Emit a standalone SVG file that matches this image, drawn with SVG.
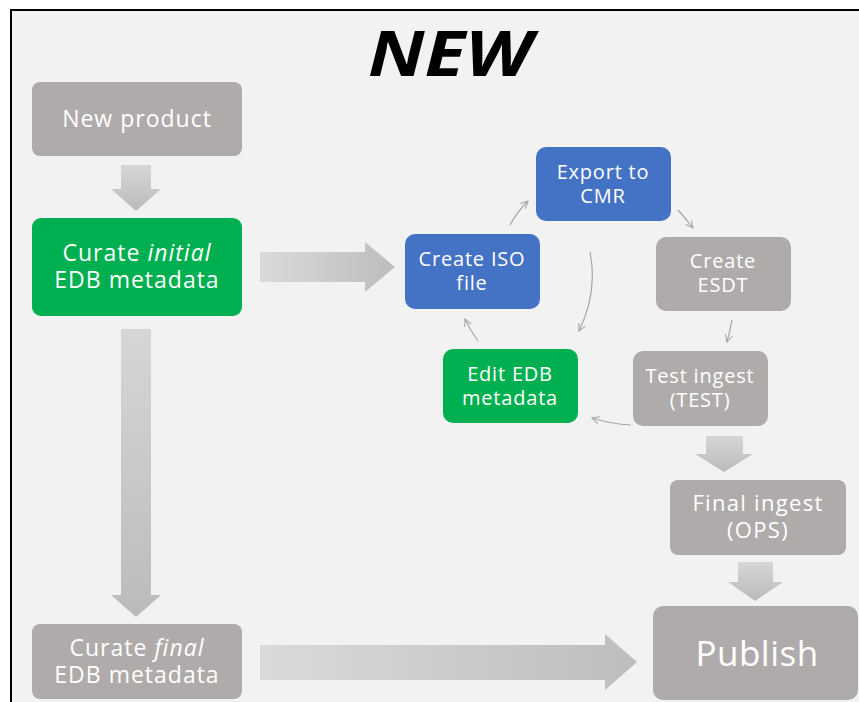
<svg xmlns="http://www.w3.org/2000/svg" width="859" height="702" viewBox="0 0 859 702">
<defs>
<style>
.t{font-family:"Open Sans","Liberation Sans",sans-serif;fill:#fff;text-anchor:middle}
.big{font-size:23px;letter-spacing:1px}
.mid{font-size:20px;letter-spacing:0.8px}
.gray{fill:#AFABAB}
.green{fill:#00B050}
.blue{fill:#4472C4}
.thin{fill:none;stroke:#A6A6A6;stroke-width:1.2}
</style>
<linearGradient id="gh" x1="0" y1="0" x2="1" y2="0"><stop offset="0" stop-color="#DADADA"/><stop offset="1" stop-color="#BDBDBD"/></linearGradient>
<linearGradient id="gv" x1="0" y1="0" x2="0" y2="1"><stop offset="0" stop-color="#D6D6D6"/><stop offset="1" stop-color="#BBBBBB"/></linearGradient>
<marker id="ah" viewBox="0 0 10 10" refX="9" refY="5" markerWidth="9" markerHeight="9" markerUnits="userSpaceOnUse" orient="auto"><path d="M1,1 L9,5 L1,9" fill="none" stroke="#A6A6A6" stroke-width="1.2"/></marker>
</defs>
<rect x="0" y="0" width="859" height="702" fill="#fff"/>
<rect x="11" y="10" width="860" height="700" fill="#F2F2F2" stroke="#000" stroke-width="2"/>
<text x="450" y="76" font-family="'Open Sans','Liberation Sans',sans-serif" font-weight="bold" font-style="italic" font-size="62" text-anchor="middle" textLength="164" lengthAdjust="spacingAndGlyphs" fill="#000">NEW</text>

<g id="connectors">
<path d="M121,165 H151 V189 H161 L136,211 L111,189 H121 Z" fill="url(#gv)"/>
<path d="M121,329 H151 V595 H161 L136,617 L111,595 H121 Z" fill="url(#gv)"/>
<path d="M260,252 H365 V242 L395,267 L365,292 V282 H260 Z" fill="url(#gh)"/>
<path d="M260,645 H605 V634 L637,662 L605,690 V680 H260 Z" fill="url(#gh)"/>
<path d="M706,436 H743 V454 H753 L724,472 L695,454 H706 Z" fill="url(#gv)"/>
<path d="M738,562 H773 V582 H783 L755,601 L728,582 H738 Z" fill="url(#gv)"/>
<path class="thin" marker-end="url(#ah)" d="M510,225 Q517,212 528,201"/>
<path class="thin" marker-end="url(#ah)" d="M678,210 Q686,219 693,228"/>
<path class="thin" marker-end="url(#ah)" d="M732,320 Q730,331 727,342"/>
<path class="thin" marker-end="url(#ah)" d="M631,425 Q611,424 592,418"/>
<path class="thin" marker-end="url(#ah)" d="M478,341 Q470,330 465,319"/>
<path class="thin" marker-end="url(#ah)" d="M590,252 Q598,292 579,331"/>
</g>

<g id="new-product"><rect class="gray" x="32" y="82" width="210" height="74" rx="8"/><text class="t big" x="137" y="127">New product</text></g>
<g id="curate-initial"><rect class="green" x="32" y="218" width="210" height="98" rx="9"/><text class="t big" x="137" y="261">Curate <tspan font-style="italic">initial</tspan></text><text class="t big" x="137" y="288">EDB metadata</text></g>
<g id="curate-final"><rect class="gray" x="32" y="624" width="210" height="75" rx="8"/><text class="t big" x="137" y="656">Curate <tspan font-style="italic">final</tspan></text><text class="t big" x="137" y="683">EDB metadata</text></g>
<g id="export-cmr"><rect class="blue" x="536" y="147" width="135" height="74" rx="10"/><text class="t mid" x="603" y="179">Export to</text><text class="t mid" x="603" y="203">CMR</text></g>
<g id="create-iso"><rect class="blue" x="405" y="234" width="135" height="75" rx="10"/><text class="t mid" x="472" y="266">Create ISO</text><text class="t mid" x="472" y="290">file</text></g>
<g id="create-esdt"><rect class="gray" x="656" y="237" width="135" height="74" rx="10"/><text class="t mid" x="723" y="268">Create</text><text class="t mid" x="723" y="292">ESDT</text></g>
<g id="test-ingest"><rect class="gray" x="633" y="351" width="135" height="75" rx="10"/><text class="t mid" x="700" y="383">Test ingest</text><text class="t mid" x="700" y="407">(TEST)</text></g>
<g id="edit-edb"><rect class="green" x="443" y="349" width="135" height="74" rx="10"/><text class="t mid" x="510" y="381">Edit EDB</text><text class="t mid" x="510" y="405">metadata</text></g>
<g id="final-ingest"><rect class="gray" x="670" y="480" width="176" height="75" rx="8"/><text class="t" x="758" y="511" font-size="22" letter-spacing="1.3">Final ingest</text><text class="t" x="758" y="538" font-size="22" letter-spacing="1.3">(OPS)</text></g>
<g id="publish"><rect class="gray" x="653" y="606" width="205" height="94" rx="10"/><text class="t" x="757" y="666" font-size="35" letter-spacing="0.5">Publish</text></g>
</svg>
